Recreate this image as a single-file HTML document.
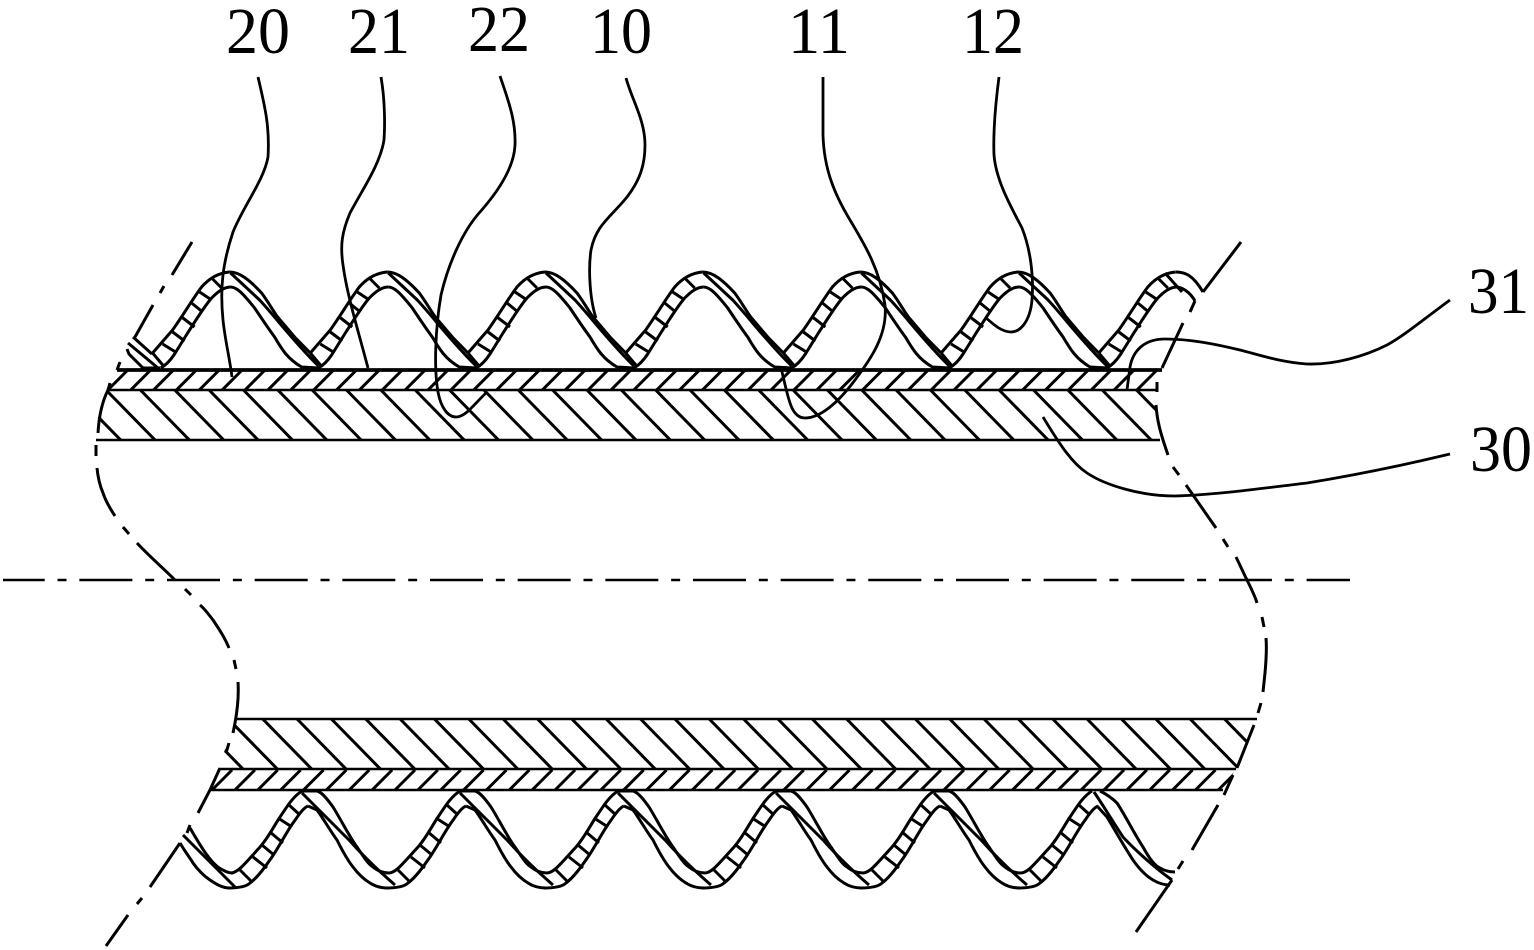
<!DOCTYPE html>
<html>
<head>
<meta charset="utf-8">
<style>
html,body{margin:0;padding:0;background:#fff;}
svg{display:block;}
text{font-family:"Liberation Serif",serif;font-size:66px;fill:#000;}
</style>
</head>
<body>
<svg width="1534" height="950" viewBox="0 0 1534 950" xmlns="http://www.w3.org/2000/svg">
<defs>
<path id="t5" d="M0 0l20-20M22.87 0l20-20M45.74 0l20-20M68.61 0l20-20M91.48 0l20-20"/>
<g id="t50"><use href="#t5"/><use href="#t5" x="114.35"/><use href="#t5" x="228.7"/><use href="#t5" x="343.05"/><use href="#t5" x="457.4"/><use href="#t5" x="571.75"/><use href="#t5" x="686.1"/><use href="#t5" x="800.45"/><use href="#t5" x="914.8"/><use href="#t5" x="1029.15"/></g>
<path id="k5" d="M0 0l-49-50M34.35 0l-49-50M68.7 0l-49-50M103.05 0l-49-50M137.4 0l-49-50"/>
<g id="k35"><use href="#k5"/><use href="#k5" x="171.75"/><use href="#k5" x="343.5"/><use href="#k5" x="515.25"/><use href="#k5" x="687"/><use href="#k5" x="858.75"/><use href="#k5" x="1030.5"/></g>
<clipPath id="c1"><polygon points="105,368 1163,368 1141,391 105,391"/></clipPath>
<clipPath id="c2"><polygon points="108,389 100,410 97,422 96,441 1156,441 1156,389"/></clipPath>
<clipPath id="c3"><polygon points="237,718 224,752 224,770 1236,770 1258,718"/></clipPath>
<clipPath id="c4"><polygon points="220,768 210,791 1224,791 1236,768"/></clipPath>
<g id="r">
<path d="M468 353L488 330C500 313 508 299 517 287C524 279 533 273 545 272"/>
<path d="M476 368C482 365 486 360 490 354L503 333C512 319 520 306 527 298C533 292 539 287 546 287"/>
<path d="M527 278L537 288M515 292L527 300M507 303L518 312M497 317L510 327M488 332L500 341M478 344L491 352M468 353L479 366"/>
</g>
<g id="f">
<path d="M545 272C555 272 565 280 577 293C583 301 588 310 593 317L610 337L625.7 353"/>
<path d="M546 287C552 287 558 293 570 308C578 320 584 329 590 337C597 349 603 359 617 367L634 368"/>
<path d="M546 273L575 300C590 316 612 345 634 366"/>
</g>
<g id="br">
<path d="M231 873C237 873 243 866 260 847C268 838 274 826 280 817C285 810 292 797 302 791"/>
<path d="M228 888C238 888 246 887 250 883C258 877 265 867 272 857C280 845 286 833 293 823C298 816 303 808 308 806"/>
<path d="M240 870L252 882M253 857L267 868M262 845L274 855M270 832L283 843M278 818L292 827M289 805L300 815"/>
</g>
<g id="bf">
<path d="M302 791L317 791C322 792 328 800 333 807C340 818 350 838 357 847C363 856 368 864 373 867C379 872 385 873 389 873"/>
<path d="M308 806L317 810C323 818 331 832 337 840C343 852 349 862 353 867C359 875 365 880 370 883C376 887 382 888 388 888"/>
<path d="M302 793L350 841C365 858 380 872 395 885"/>
</g>
</defs>
<rect width="1534" height="950" fill="#fff"/>

<g fill="none" stroke="#000" stroke-width="3">
<!-- top band -->
<path d="M117 370H1162" stroke-width="3.8"/>
<path d="M107 390H1157M96 440H1160" stroke-width="2.5"/>
<g clip-path="url(#c1)"><use href="#t50" x="107.8" y="390"/></g>
<g clip-path="url(#c2)"><use href="#k35" x="120.7" y="440"/></g>
<!-- bottom band -->
<path d="M237 719H1257M220 769H1236M210 790H1223" stroke-width="2.5"/>
<g clip-path="url(#c3)"><use href="#k35" x="243" y="769"/></g>
<g clip-path="url(#c4)"><use href="#t50" x="212" y="790"/></g>

<!-- top corrugation -->
<use href="#r" x="-315.4"/><use href="#r" x="-157.7"/><use href="#r"/><use href="#r" x="157.7"/><use href="#r" x="315.4"/><use href="#r" x="473.1"/><use href="#r" x="630.8"/>
<use href="#f" x="-315.4"/><use href="#f" x="-157.7"/><use href="#f"/><use href="#f" x="157.7"/><use href="#f" x="315.4"/><use href="#f" x="473.1"/>
<path d="M133 337L152 354M128 343L158 368M127 349L129 354L143 368L160 368"/>
<path d="M1176 272C1185 272 1193 275 1203 292M1176 287C1182 287 1190 292 1195 301M1165 273L1182 292"/>

<!-- bottom corrugation -->
<use href="#br"/><use href="#br" x="158"/><use href="#br" x="316"/><use href="#br" x="474"/><use href="#br" x="632"/><use href="#br" x="790"/>
<use href="#bf"/><use href="#bf" x="158"/><use href="#bf" x="316"/><use href="#bf" x="474"/><use href="#bf" x="632"/>
<path d="M190 828C197 840 203 850 207 855C212 862 218 868 223 870C226 872 230 873 233 873"/>
<path d="M180 843C184 850 190 858 193 863C198 870 204 876 210 880C216 884 222 888 230 888"/>
<path d="M183 835L235 887"/>
<path d="M1100 791C1108 795 1112 798 1117 803C1125 815 1135 835 1143 847C1149 858 1155 866 1160 868C1165 871 1170 872 1175 872"/>
<path d="M1097 806L1107 817C1116 832 1125 848 1133 860C1140 870 1146 876 1153 880C1158 883 1164 885 1170 885"/>
<path d="M1094 792C1103 805 1113 822 1123 837C1135 850 1155 868 1172 880"/>

<!-- break lines -->
<path d="M192 242L172 275M164 286L160 293M153 305L135 337M120 362L117 370"/>
<path d="M110 383L108 390C103 400 99 415 98 433"/>
<path d="M96 445V456M97 468C98 478 100 486 103 493C106 502 111 510 115 516M123 527L129 534M137 543C148 555 162 567 175 580M185 589L191 595M200 605C205 609 209 615 213 620C219 629 225 638 229 648M234 660L236 669M238 682C239 697 237 712 235 723L233 733M229 743L226 753M220 768L210 790L198 813M190 825L187 833M180 843L150 887M142 898L137 904M128 915L106 946"/>
<path d="M1241 242L1203 292M1195 301L1190 312M1183 323L1162 368M1157 382V392M1156 405C1157 420 1160 432 1168 455M1173 467L1179 475M1186 485L1216 528M1223 539L1228 547M1236 557C1240 565 1243 572 1247 580C1251 588 1255 596 1257 603M1262 617L1264 627M1266 638C1267 650 1266 662 1265 673L1263 692M1261 703L1258 713M1254 725L1237 768M1233 775L1224 795M1218 805L1192 850M1183 861L1178 869M1172 880L1136 932"/>

<!-- center line -->
<path d="M3 580H1350" stroke-width="2.5" stroke-dasharray="53 12.83 9 12.83" stroke-dashoffset="11.3"/>

<!-- leaders -->
<g stroke-width="2.8">
<path d="M258 77C264 103 270 125 268 157C264 180 244 205 233 232C222 265 220 290 223 320C225 340 230 360 232 377"/>
<path d="M381 77C385 100 385 125 384 140C380 165 362 190 350 213C342 232 340 245 343 265C347 295 358 330 368 368"/>
<path d="M500 76C508 100 516 120 515 145C514 170 495 195 480 212C462 232 448 265 441 295C435 330 434 370 438 392C441 408 448 417 456 417C466 417 475 403 487 392"/>
<path d="M626 78C632 100 645 120 645 145C645 165 640 180 627 197C610 218 596 225 591 250C588 270 590 300 596 318"/>
<path d="M823 77L823 135C824 170 835 195 850 220C865 245 880 270 885 305C888 335 870 360 855 380C838 403 820 418 805 418C790 418 788 395 781 368"/>
<path d="M999 77C996 100 993 130 994 155C996 180 1010 205 1022 228C1030 248 1034 275 1032 300C1030 322 1020 332 1011 332C1002 332 994 325 985 317"/>
<path d="M1450 300C1420 322 1405 335 1387 345C1365 356 1335 365 1307 364C1280 362 1260 355 1240 350C1215 344 1190 339 1165 339C1145 339 1133 350 1130 367L1127 390"/>
<path d="M1450 454C1400 466 1350 476 1307 483C1265 488 1215 495 1175 496C1140 496 1105 485 1087 473C1072 463 1060 445 1043 417"/>
</g>
</g>

<!-- labels -->
<text x="226" y="53" textLength="64" lengthAdjust="spacingAndGlyphs">20</text>
<text x="348" y="53" textLength="62" lengthAdjust="spacingAndGlyphs">21</text>
<text x="468" y="51" textLength="62" lengthAdjust="spacingAndGlyphs">22</text>
<text x="590" y="53" textLength="62" lengthAdjust="spacingAndGlyphs">10</text>
<text x="788" y="53" textLength="62" lengthAdjust="spacingAndGlyphs">11</text>
<text x="962" y="53" textLength="62" lengthAdjust="spacingAndGlyphs">12</text>
<text x="1468" y="313" textLength="61" lengthAdjust="spacingAndGlyphs">31</text>
<text x="1470" y="471" textLength="62" lengthAdjust="spacingAndGlyphs">30</text>
</svg>
</body>
</html>
